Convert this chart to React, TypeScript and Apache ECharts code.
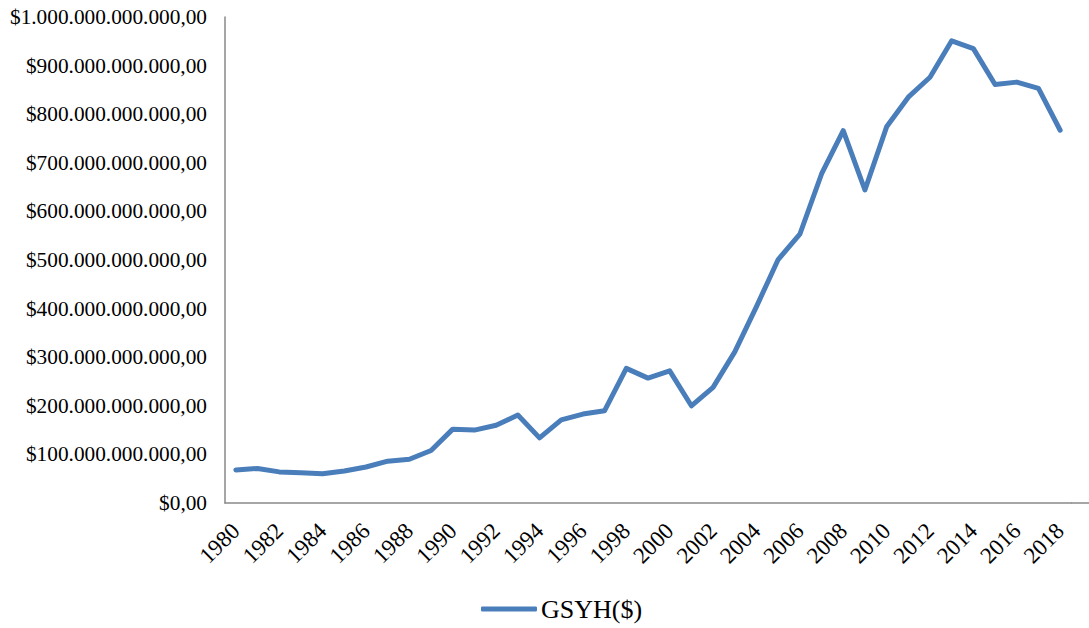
import React, { useEffect, useRef } from "react";
import * as echarts from "echarts";

const years: string[] = [
  "1980", "1981", "1982", "1983", "1984", "1985", "1986", "1987", "1988", "1989",
  "1990", "1991", "1992", "1993", "1994", "1995", "1996", "1997", "1998", "1999",
  "2000", "2001", "2002", "2003", "2004", "2005", "2006", "2007", "2008", "2009",
  "2010", "2011", "2012", "2013", "2014", "2015", "2016", "2017", "2018",
];

// GDP in billions of USD
const gdpBillions: number[] = [
  68, 71, 64, 62, 60, 66, 74, 86, 90, 108,
  152, 150, 160, 181, 134, 171, 183, 190, 277, 257,
  272, 200, 238, 311, 404, 501, 553, 677, 766, 644,
  774, 835, 876, 951, 935, 861, 866, 853, 767,
];

const seriesName = "GSYH($)";
const FONT = '"Liberation Serif", "Times New Roman", serif';
const LINE_COLOR = "#4a7ebb";

function fmtMoney(v: number): string {
  const s = Math.round(v).toString();
  const withDots = s.replace(/\B(?=(\d{3})+(?!\d))/g, ".");
  return "$" + withDots + ",00";
}

export default function App() {
  const ref = useRef<HTMLDivElement>(null);
  useEffect(() => {
    if (!ref.current) return;
    const chart = echarts.init(ref.current, undefined, { renderer: "svg" });
    const values = gdpBillions.map((b) => b * 1e9);
    chart.setOption({
      animation: false,
      backgroundColor: "#ffffff",
      textStyle: { fontFamily: FONT },
      grid: { left: 225, top: 17, right: 18, bottom: 125, containLabel: false },
      legend: {
        data: [{ name: seriesName, icon: "roundRect" }],
        left: 476,
        top: 591,
        itemWidth: 56,
        itemHeight: 5,
        itemGap: 4,
        itemStyle: { color: LINE_COLOR, borderWidth: 0 },
        textStyle: { fontFamily: FONT, fontSize: 26, color: "#000000", padding: [0, 0, 0, -1] },
      },
      xAxis: {
        type: "category",
        data: years,
        boundaryGap: true,
        axisLine: { lineStyle: { color: "#898989", width: 1.5 } },
        axisTick: { show: false },
        axisLabel: {
          interval: 1,
          rotate: 45,
          margin: 24,
          fontFamily: FONT,
          fontSize: 23,
          color: "#000000",
        },
        splitLine: { show: false },
      },
      yAxis: {
        type: "value",
        min: 0,
        max: 1e12,
        interval: 1e11,
        axisLine: { show: true, lineStyle: { color: "#898989", width: 1.5 } },
        axisTick: { show: false },
        splitLine: { show: false },
        axisLabel: {
          margin: 18,
          fontFamily: FONT,
          fontSize: 21.3,
          color: "#000000",
          formatter: (v: number) => fmtMoney(v),
        },
      },
      graphic: [
        {
          type: "line",
          shape: { x1: 1071, y1: 503, x2: 1089, y2: 503 },
          style: { stroke: "#898989", lineWidth: 1.5 },
        },
      ],
      series: [
        {
          name: seriesName,
          type: "line",
          data: values,
          symbol: "none",
          lineStyle: { color: LINE_COLOR, width: 5, cap: "round", join: "round" },
          itemStyle: { color: LINE_COLOR },
        },
      ],
    });
    return () => chart.dispose();
  }, []);
  return (
    <div
      ref={ref}
      style={{ position: "fixed", left: 0, top: 0, width: 1089, height: 628 }}
    />
  );
}
